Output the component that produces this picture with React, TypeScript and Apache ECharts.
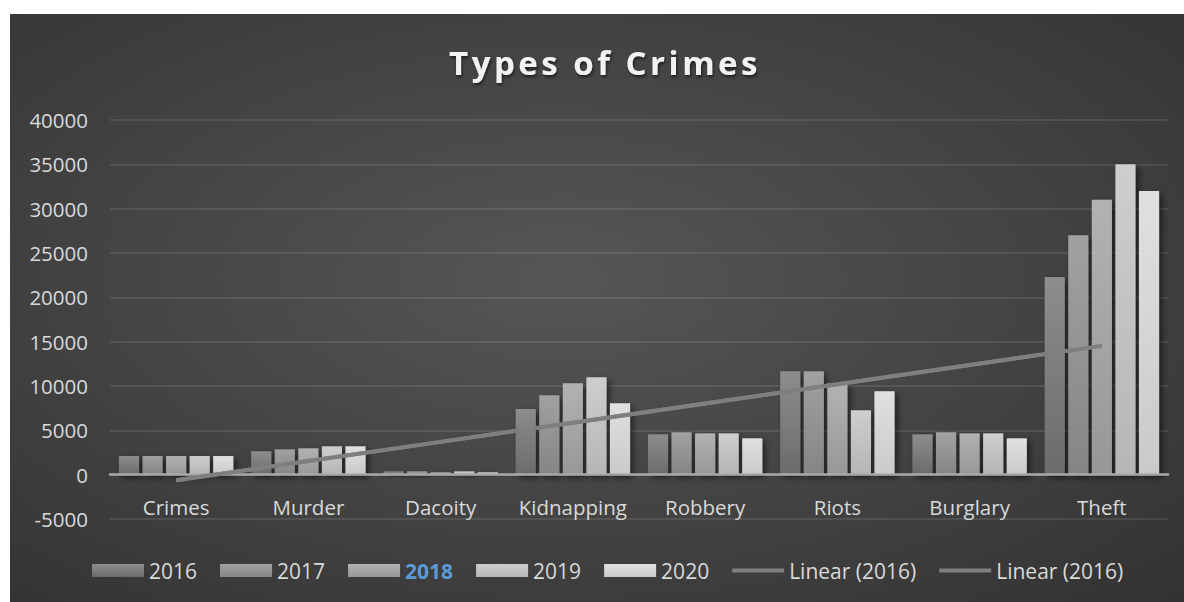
import React, { useEffect, useRef } from "react";
import * as echarts from "echarts";

const categories = ["Crimes", "Murder", "Dacoity", "Kidnapping", "Robbery", "Riots", "Burglary", "Theft"];
const years = ["2016", "2017", "2018", "2019", "2020"];
const v2016 = [2100, 2650, 370, 7400, 4550, 11650, 4550, 22300];
const v2017 = [2100, 2850, 370, 8950, 4780, 11650, 4780, 27000];
const v2018 = [2100, 2970, 260, 10300, 4660, 10280, 4660, 31000];
const v2019 = [2100, 3200, 370, 10980, 4660, 7260, 4660, 35000];
const v2020 = [2100, 3200, 260, 8050, 4100, 9400, 4100, 32000];
const yMin = -5000;
const yMax = 40000;
const yInterval = 5000;
const trendNames = ["Linear (2016)", "Linear (2016) "];

const barColors: [string, string][] = [
  ["#8d8d8d", "#6b6b6b"],
  ["#a1a1a1", "#858585"],
  ["#b2b2b2", "#979797"],
  ["#cecece", "#b6b6b6"],
  ["#e0e0e0", "#cacaca"],
];

function linearTrend(values: number[]): number[] {
  const n = values.length;
  const xs = values.map((_, i) => i + 1);
  const mx = xs.reduce((a, b) => a + b, 0) / n;
  const my = values.reduce((a, b) => a + b, 0) / n;
  let sxy = 0;
  let sxx = 0;
  for (let i = 0; i < n; i++) {
    sxy += (xs[i] - mx) * (values[i] - my);
    sxx += (xs[i] - mx) * (xs[i] - mx);
  }
  const slope = sxy / sxx;
  return xs.map((x) => Math.round(my + slope * (x - mx)));
}

const lineIcon = "path://M0,0 M0,13 M0,4.5 L52,4.5 L52,8.5 L0,8.5 Z";

export default function App() {
  const ref = useRef<HTMLDivElement>(null);
  useEffect(() => {
    if (!ref.current) return;
    const chart = echarts.init(ref.current, null, { renderer: "svg" });
    const seriesValues = [v2016, v2017, v2018, v2019, v2020];
    const trend = linearTrend(v2016);
    const font = "'Open Sans', sans-serif";
    const barSeries = years.map((y, i) => ({
      name: y,
      type: "bar",
      data: seriesValues[i],
      barGap: "17%",
      barCategoryGap: "13.5%",
      itemStyle: {
        color: new echarts.graphic.LinearGradient(0, 0, 0, 1, [
          { offset: 0, color: barColors[i][0] },
          { offset: 1, color: barColors[i][1] },
        ]),
        shadowBlur: 6,
        shadowColor: "rgba(0,0,0,0.55)",
        shadowOffsetX: 3,
        shadowOffsetY: 3,
      },
      z: 2,
    }));
    const lineSeries = trendNames.map((n) => ({
      name: n,
      type: "line",
      data: trend,
      symbol: "none",
      lineStyle: { color: "#7f7f7f", width: 4 },
      itemStyle: { color: "#7f7f7f" },
      z: 5,
    }));
    chart.setOption({
      animation: false,
      backgroundColor: {
        type: "radial",
        x: 0.47,
        y: 0.45,
        r: 1.0,
        colorStops: [
          { offset: 0, color: "#565656" },
          { offset: 1, color: "#272727" },
        ],
      },
      title: {
        text: "Types of Crimes",
        left: 590,
        textAlign: "center",
        top: 27,
        textStyle: {
          color: "#f2f2f2",
          fontFamily: font,
          fontWeight: "bold",
          fontSize: 33,
          textShadowColor: "rgba(0,0,0,0.6)",
          textShadowBlur: 3,
          textShadowOffsetX: 1,
          textShadowOffsetY: 2,
        },
      },
      legend: {
        bottom: 16,
        left: 77,
        icon: "rect",
        itemWidth: 52,
        itemHeight: 13,
        itemGap: 23,
        itemStyle: { shadowBlur: 0, shadowOffsetX: 0, shadowOffsetY: 0 },
        textStyle: { color: "#d9d9d9", fontFamily: font, fontSize: 21 },
        formatter: (name: string) => name.trim(),
        data: [
          { name: "2016" },
          { name: "2017" },
          { name: "2018", textStyle: { color: "#5b9bd5", fontWeight: "bold" } },
          { name: "2019" },
          { name: "2020" },
          { name: trendNames[0], icon: lineIcon },
          { name: trendNames[1], icon: lineIcon },
        ],
      },
      grid: { left: 100, right: 16, top: 106, bottom: 83, containLabel: false },
      xAxis: {
        type: "category",
        data: categories,
        axisTick: { show: false },
        axisLine: { onZero: true, lineStyle: { color: "#a9a9a9", width: 2.5 } },
        axisLabel: {
          color: "#d9d9d9",
          fontFamily: font,
          fontSize: 20.5,
          margin: -23,
          interval: 0,
          hideOverlap: false,
        },
        z: 3,
      },
      yAxis: {
        type: "value",
        min: yMin,
        max: yMax,
        interval: yInterval,
        axisLine: { show: false },
        axisTick: { show: false },
        axisLabel: {
          color: "#d9d9d9",
          fontFamily: font,
          fontSize: 20.5,
          margin: 22,
          formatter: (v: number) => String(v),
        },
        splitLine: { lineStyle: { color: "rgba(255,255,255,0.13)", width: 1.5 } },
      },
      series: [...barSeries, ...lineSeries],
    });
    const texts = ref.current.querySelectorAll("text");
    texts.forEach((t) => {
      if (t.textContent === "Types of Crimes") {
        (t as SVGTextElement).style.letterSpacing = "3.5px";
      }
    });
    return () => chart.dispose();
  }, []);
  return (
    <div
      ref={ref}
      style={{ position: "absolute", left: 10, top: 14, width: 1174, height: 588 }}
    />
  );
}
